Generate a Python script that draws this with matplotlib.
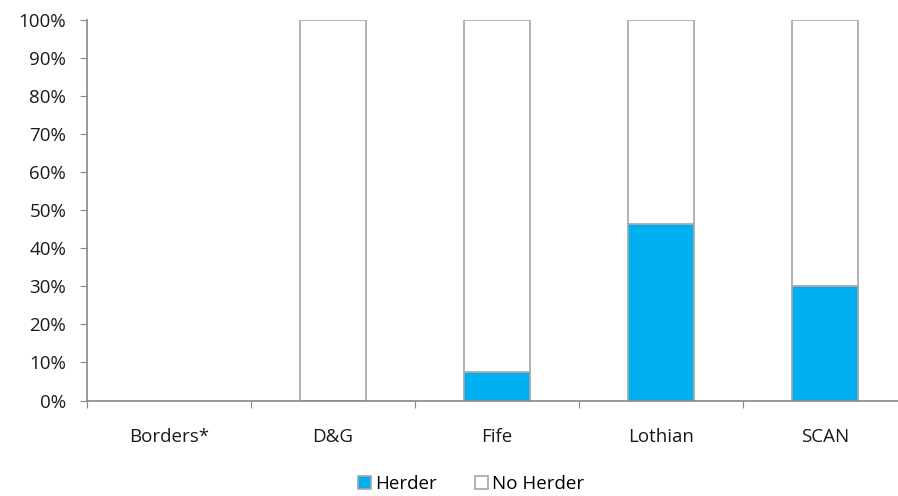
import matplotlib
matplotlib.use("Agg")
import matplotlib.pyplot as plt
from matplotlib.patches import Patch
import numpy as np

regions = ["Borders*", "D&G", "Fife", "Lothian", "SCAN"]
herder = [0.0, 0.0, 7.4, 46.5, 30.0]
no_herder = [0.0, 100.0, 92.6, 53.5, 70.0]

plt.rcParams['font.family'] = ['Open Sans', 'DejaVu Sans']
fs = 13.5

fig = plt.figure(figsize=(8.98, 4.96), dpi=100)
# axis runs off the right edge in the original
ax = fig.add_axes([87 / 898, 1 - 400.5 / 496, 820 / 898, 380.5 / 496])

x = np.arange(len(regions))
edge = "#a6a6a6"
blue = "#00b0f0"
b1 = ax.bar(x, herder, width=0.4, color=blue, edgecolor=edge, linewidth=1.2)
b2 = ax.bar(x, no_herder, bottom=herder, width=0.4, color="white", edgecolor=edge, linewidth=1.2)
# hide empty bars (Borders*)
for bars, vals in ((b1, herder), (b2, no_herder)):
    for rect, v in zip(bars, vals):
        if v == 0:
            rect.set_visible(False)

ax.set_xlim(-0.5, len(regions) - 0.5)
ax.set_ylim(0, 100)
ax.set_yticks(np.arange(0, 101, 10))
ax.set_yticklabels([f"{v}%" for v in range(0, 101, 10)], fontsize=fs, color="#1a1a1a")

ax.set_xticks(np.arange(-0.5, len(regions), 1.0))
ax.set_xticklabels([])
ax.set_xticks(x, minor=True)
ax.set_xticklabels(regions, minor=True, fontsize=fs, color="#1a1a1a")
ax.tick_params(axis="x", which="minor", length=0, pad=20)
ax.tick_params(axis="x", which="major", length=5, color="#878787", direction="out")
ax.tick_params(axis="y", length=5, color="#878787", pad=10)

for s in ["top", "right"]:
    ax.spines[s].set_visible(False)
for s in ["left", "bottom"]:
    ax.spines[s].set_color("#878787")
    ax.spines[s].set_linewidth(1.2)

handles = [Patch(facecolor=blue, edgecolor=edge, linewidth=1.2, label="Herder"),
           Patch(facecolor="white", edgecolor=edge, linewidth=1.2, label="No Herder")]
fig.legend(handles=handles, loc="center", bbox_to_anchor=(471 / 898, 1 - 484 / 496),
           ncol=2, frameon=False, fontsize=fs, handlelength=0.7, handleheight=0.7,
           handletextpad=0.25, columnspacing=2.0)

fig.savefig("out.png", dpi=100)
